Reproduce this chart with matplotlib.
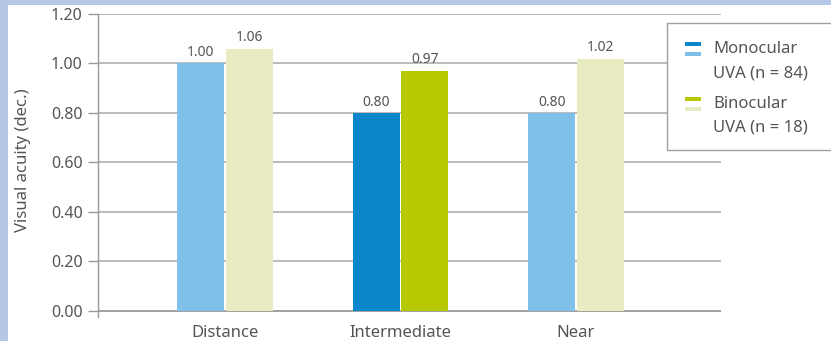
import matplotlib.pyplot as plt
from matplotlib.patches import Rectangle

plt.rcParams['font.family'] = ['Noto Sans', 'DejaVu Sans']

categories = ['Distance', 'Intermediate', 'Near']
monocular = [1.00, 0.80, 0.80]
binocular = [1.06, 0.97, 1.02]
yticks = [0.00, 0.20, 0.40, 0.60, 0.80, 1.00, 1.20]

light_blue = '#7fbfe8'
dark_blue = '#0a86cb'
beige = '#e9ecc3'
green = '#b6c800'
mono_colors = [light_blue, dark_blue, light_blue]
bino_colors = [beige, green, beige]
text_col = '#555555'
grid_col = '#b5b5b5'

fig = plt.figure(figsize=(8.31, 3.41), dpi=100, facecolor='#b4c7e7')
# white panel inside the blue frame
fig.add_artist(Rectangle((8 / 831, 0), 1, 1 - 5 / 341, transform=fig.transFigure,
                         facecolor='white', edgecolor='none', zorder=0))

ax = fig.add_axes([98 / 831, 24 / 341, 623 / 831, 303 / 341])
ax.set_facecolor('none')

x = list(range(len(categories)))
w = 0.276
ax.bar([i - w / 2 for i in x], monocular, width=w - 0.01, color=mono_colors, zorder=3)
ax.bar([i + w / 2 for i in x], binocular, width=w - 0.01, color=bino_colors, zorder=3)

for i in x:
    ax.text(i - w / 2, monocular[i] + 0.03, f'{monocular[i]:.2f}', ha='center', va='baseline',
            fontsize=10, color=text_col)
    ax.text(i + w / 2, binocular[i] + 0.03, f'{binocular[i]:.2f}', ha='center', va='baseline',
            fontsize=10, color=text_col)

ax.set_xlim(-0.724, 2.826)
ax.set_ylim(-0.025, 1.2)
ax.set_yticks(yticks)
ax.set_yticklabels([f'{v:.2f}' for v in yticks], fontsize=11.5, color=text_col)
ax.set_xticks(x)
ax.set_xticklabels(categories, fontsize=12, color=text_col)
ax.tick_params(axis='x', length=0, pad=6)
ax.tick_params(axis='y', length=7, width=1, color='#999999', pad=4)

for v in yticks:
    ax.axhline(v, color='#999999' if v == 0 else grid_col, lw=1.3, zorder=1)

for s in ['top', 'right', 'bottom']:
    ax.spines[s].set_visible(False)
ax.spines['left'].set_color('#999999')
ax.spines['left'].set_linewidth(1)

ax.set_ylabel('Visual acuity (dec.)', fontsize=12, color=text_col)
ax.yaxis.set_label_coords(-0.108, 0.518)

# legend box drawn in figure pixels
def px(xp, yp):
    return xp / 831, 1 - yp / 341

lx, ly = px(667, 150)
fig.add_artist(Rectangle((lx, ly), 1, (150 - 23) / 341, transform=fig.transFigure,
                         facecolor='white', edgecolor='#a0a0a0', lw=1, zorder=5))
entries = [((dark_blue, light_blue), ('Monocular', 'UVA (n = 84)'), 42),
           ((green, beige), ('Binocular', 'UVA (n = 18)'), 97)]
for (c1, c2), lines, ytop in entries:
    for k, c in enumerate((c1, c2)):
        rx, ry = px(685, ytop + k * 10 + 4)
        fig.add_artist(Rectangle((rx, ry), 16 / 831, 4 / 341, transform=fig.transFigure,
                                 facecolor=c, edgecolor='none', zorder=6))
    for k, line in enumerate(lines):
        tx, ty = px(713, ytop + 7 + k * 24)
        fig.text(tx, ty, line, fontsize=12, color=text_col, va='center', ha='left', zorder=6)

fig.savefig('out.png', dpi=100, facecolor=fig.get_facecolor())
